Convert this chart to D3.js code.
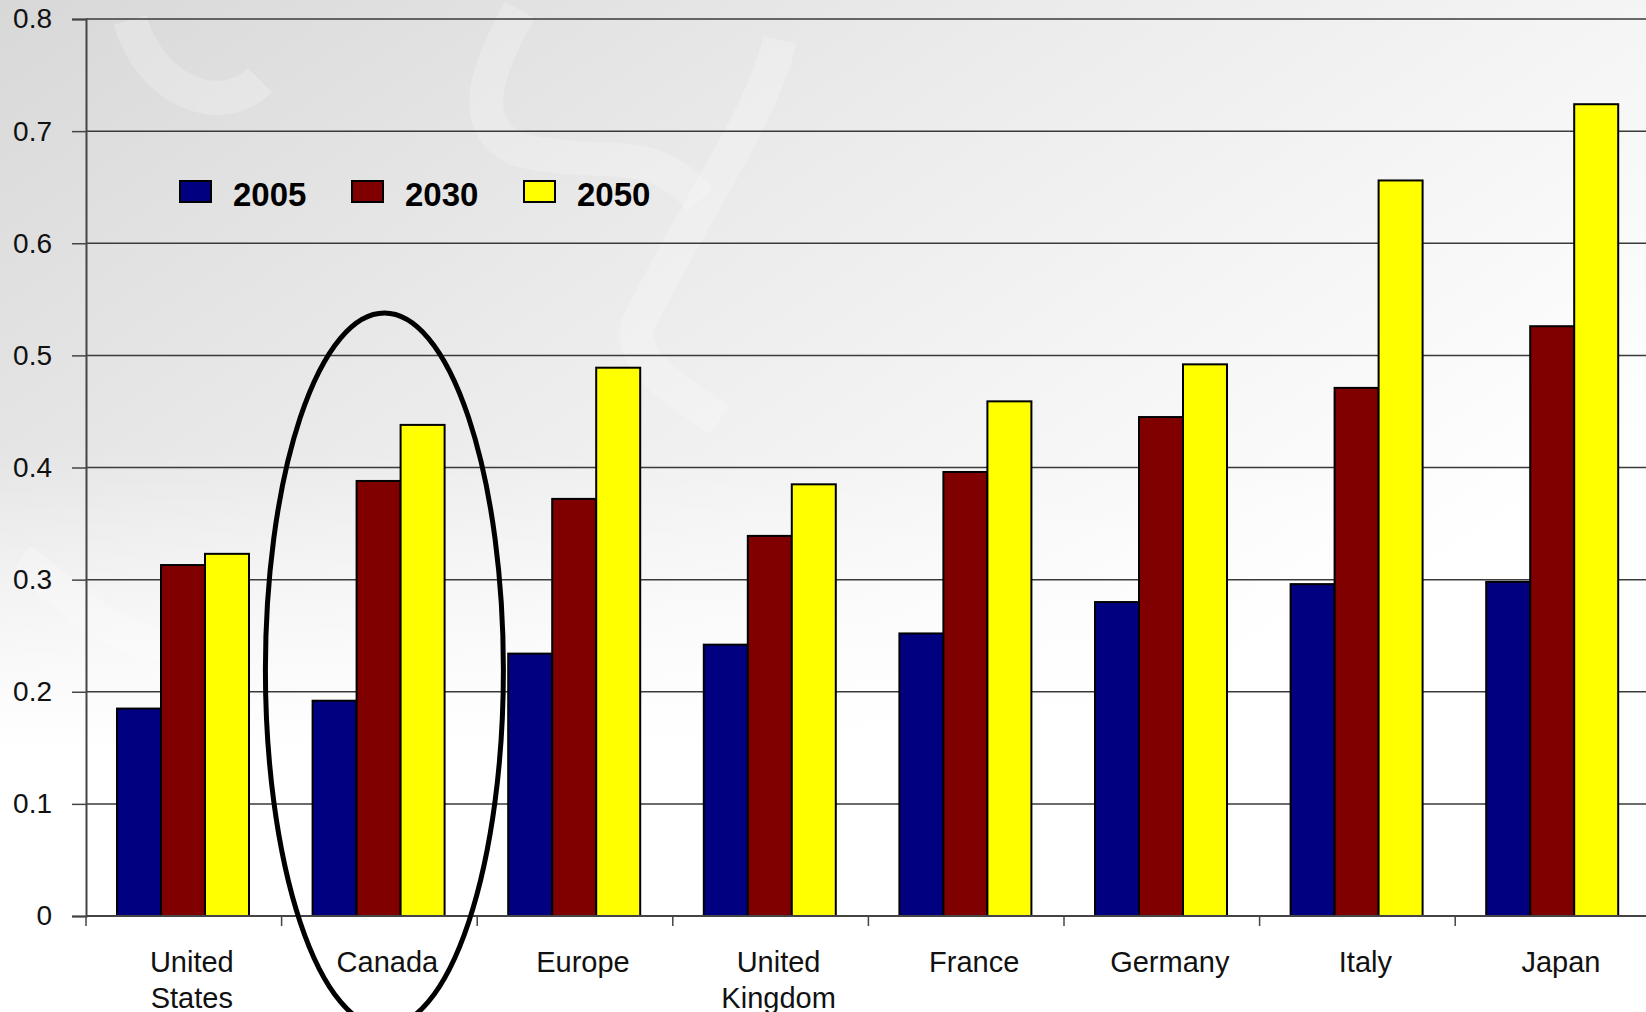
<!DOCTYPE html>
<html>
<head>
<meta charset="utf-8">
<script src="https://cdn.jsdelivr.net/npm/d3@7"></script>
<style>
  html, body { margin: 0; padding: 0; background: #fff; }
  svg { display: block; }
</style>
</head>
<body>
<div id="chart"></div>
<script>
// data
const categories = ['United States', 'Canada', 'Europe', 'United Kingdom', 'France', 'Germany', 'Italy', 'Japan'];
const series = ['2005', '2030', '2050'];
const v2005 = [0.185, 0.192, 0.234, 0.242, 0.252, 0.280, 0.296, 0.298];
const v2030 = [0.313, 0.388, 0.372, 0.339, 0.396, 0.445, 0.471, 0.526];
const v2050 = [0.323, 0.438, 0.489, 0.385, 0.459, 0.492, 0.656, 0.724];
const yTicks = [0, 0.1, 0.2, 0.3, 0.4, 0.5, 0.6, 0.7, 0.8];

const values = { '2005': v2005, '2030': v2030, '2050': v2050 };
const colors = { '2005': '#000080', '2030': '#800000', '2050': '#ffff00' };

const width = 1646, height = 1012;
const plotLeft = 86, plotTop = 19, plotBottom = 916;
const band = 195.6;
const font = '"Liberation Sans", Arial, sans-serif';

const svg = d3.select('#chart').append('svg')
  .attr('width', width)
  .attr('height', height)
  .style('font-family', font);

// background: grey wash in the upper left fading to white
const defs = svg.append('defs');
const bg = defs.append('linearGradient')
  .attr('id', 'bg')
  .attr('x1', '0%').attr('y1', '0%')
  .attr('x2', '75%').attr('y2', '70%');
bg.append('stop').attr('offset', '0%').attr('stop-color', '#d8d8d8');
bg.append('stop').attr('offset', '45%').attr('stop-color', '#ebebeb');
bg.append('stop').attr('offset', '100%').attr('stop-color', '#ffffff');
svg.append('rect').attr('width', width).attr('height', height).attr('fill', 'url(#bg)');

// faint watermark swirls
const wm = svg.append('g').attr('fill', 'none').attr('stroke', '#ffffff').attr('stroke-opacity', 0.22).attr('stroke-width', 34);
wm.append('path').attr('d', 'M130,20 C150,90 220,120 260,80');
wm.append('path').attr('d', 'M520,10 C480,80 470,130 520,150 C600,170 650,140 700,200');
wm.append('path').attr('d', 'M780,40 C760,120 700,200 640,320 C620,360 690,400 720,420');
wm.append('path').attr('d', 'M20,560 C80,600 120,660 200,640');

// white under the lower part of the plot
const fade = defs.append('linearGradient')
  .attr('id', 'fade').attr('x1', '0%').attr('y1', '0%').attr('x2', '0%').attr('y2', '100%');
fade.append('stop').attr('offset', '0%').attr('stop-color', '#fff').attr('stop-opacity', 0);
fade.append('stop').attr('offset', '100%').attr('stop-color', '#fff').attr('stop-opacity', 1);
svg.append('rect').attr('x', 0).attr('y', 450).attr('width', width).attr('height', 300).attr('fill', 'url(#fade)');
svg.append('rect').attr('x', 0).attr('y', 750).attr('width', width).attr('height', height - 750).attr('fill', '#fff');

// scales
const x0 = d3.scaleBand()
  .domain(categories)
  .range([plotLeft, plotLeft + band * categories.length])
  .padding(0);

const x1 = d3.scaleBand()
  .domain(series)
  .range([31, 163])
  .padding(0);

const y = d3.scaleLinear()
  .domain([0, 0.8])
  .range([plotBottom, plotTop]);

// gridlines
svg.append('g')
  .selectAll('line')
  .data(yTicks.slice(1))
  .join('line')
  .attr('x1', plotLeft).attr('x2', width)
  .attr('y1', d => y(d)).attr('y2', d => y(d))
  .attr('stroke', '#3a3a3a')
  .attr('stroke-width', 1.5);

// bars
const groups = svg.append('g')
  .selectAll('g')
  .data(categories)
  .join('g')
  .attr('transform', d => `translate(${x0(d)},0)`);

groups.selectAll('rect')
  .data((d, i) => series.map(s => ({ s, v: values[s][i] })))
  .join('rect')
  .attr('x', d => x1(d.s))
  .attr('width', x1.bandwidth())
  .attr('y', d => y(d.v))
  .attr('height', d => plotBottom - y(d.v))
  .attr('fill', d => colors[d.s])
  .attr('stroke', '#000')
  .attr('stroke-width', 2);

// y axis
const yAxis = svg.append('g')
  .attr('transform', `translate(${plotLeft},0)`)
  .call(d3.axisLeft(y).tickValues(yTicks).tickFormat(d3.format('')).tickSize(14).tickPadding(20));
yAxis.select('.domain').attr('stroke', '#444').attr('stroke-width', 2);
yAxis.selectAll('.tick line').attr('stroke', '#444').attr('stroke-width', 1.5);
yAxis.selectAll('.tick text')
  .attr('font-size', 28)
  .attr('fill', '#111')
  .attr('font-family', font);

// x axis line and ticks at category boundaries
svg.append('line')
  .attr('x1', plotLeft).attr('x2', width)
  .attr('y1', plotBottom).attr('y2', plotBottom)
  .attr('stroke', '#444').attr('stroke-width', 2);

svg.append('g')
  .selectAll('line')
  .data(categories)
  .join('line')
  .attr('x1', d => x0(d)).attr('x2', d => x0(d))
  .attr('y1', plotBottom).attr('y2', plotBottom + 10)
  .attr('stroke', '#444').attr('stroke-width', 1.5);

// category labels, two lines where needed
const labels = svg.append('g')
  .selectAll('text')
  .data(categories)
  .join('text')
  .attr('x', d => x0(d) + x0.bandwidth() / 2 + 8)
  .attr('y', 972)
  .attr('text-anchor', 'middle')
  .attr('font-size', 29)
  .attr('fill', '#111');

labels.each(function(d) {
  const words = d.split(' ');
  const t = d3.select(this);
  words.forEach((w, i) => {
    t.append('tspan')
      .attr('x', t.attr('x'))
      .attr('dy', i === 0 ? 0 : 36)
      .text(w);
  });
});

// legend
const legend = svg.append('g');
series.forEach((s, i) => {
  const lx = 180 + i * 172;
  legend.append('rect')
    .attr('x', lx).attr('y', 181)
    .attr('width', 31).attr('height', 21)
    .attr('fill', colors[s])
    .attr('stroke', '#000')
    .attr('stroke-width', 2);
  legend.append('text')
    .attr('x', lx + 53).attr('y', 206)
    .attr('font-size', 33)
    .attr('font-weight', 'bold')
    .attr('fill', '#000')
    .text(s);
});

// ellipse around Canada
svg.append('ellipse')
  .attr('cx', x0('Canada') + x0.bandwidth() / 2 + 5)
  .attr('cy', 670)
  .attr('rx', 119)
  .attr('ry', 357)
  .attr('fill', 'none')
  .attr('stroke', '#000')
  .attr('stroke-width', 5);
</script>
</body>
</html>
